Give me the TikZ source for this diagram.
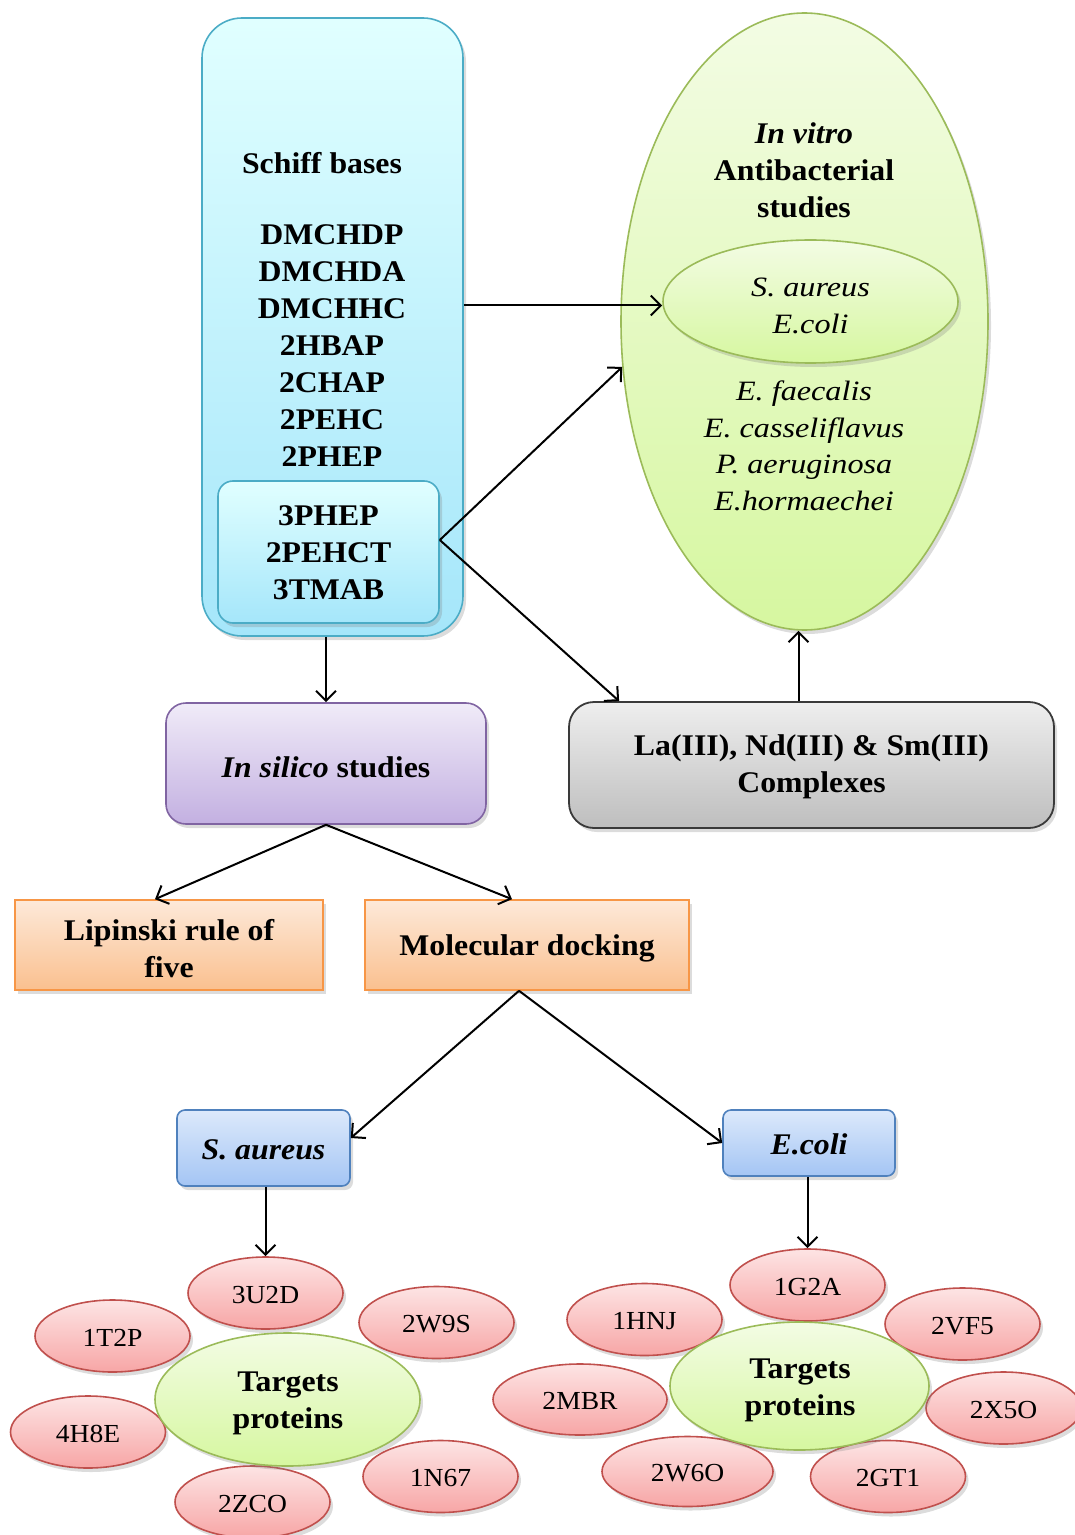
\documentclass[tikz,border=0pt]{standalone}
\usepackage{fontspec}
\setmainfont{Liberation Serif}[FakeStretch=1.06]
\newfontfamily\spfont{Liberation Serif}[FakeStretch=1.15]
\usetikzlibrary{arrows.meta,shapes.geometric,shadings,shadows}
\definecolor{bluebd}{HTML}{4BACC6}
\definecolor{greenbd}{HTML}{9BBB59}
\definecolor{purplebd}{HTML}{8064A2}
\definecolor{orangebd}{HTML}{F79646}
\definecolor{sblbd}{HTML}{4F81BD}
\definecolor{redbd}{HTML}{C0504D}
\definecolor{greybd}{HTML}{3A3A3A}
\newcommand\fbig{\fontsize{15}{18.5}\selectfont}
\newcommand\fsp{\fontsize{14}{18.3}\selectfont}
\newcommand\fred{\fontsize{13}{15}\selectfont}
\tikzset{
  arr/.style={-{Straight Barb[length=5pt,width=10pt]}, line width=1pt},
  sh/.style={drop shadow={opacity=0.28,shadow xshift=1.5pt,shadow yshift=-2pt}},
  cyanbox/.style={draw=bluebd, line width=0.8pt, top color=cyan!12!white, bottom color={rgb,255:red,165;green,230;blue,250}, sh},
  greenell/.style={ellipse, draw=greenbd, line width=0.8pt, inner sep=0pt, top color={rgb,255:red,243;green,252;blue,228}, bottom color={rgb,255:red,214;green,247;blue,160}, sh},
  redell/.style={ellipse, draw=redbd, line width=0.8pt, inner sep=0pt, minimum width=77.5pt, minimum height=36pt, text height=10.2pt, text depth=0pt, top color={rgb,255:red,253;green,228;blue,228}, bottom color={rgb,255:red,247;green,166;blue,166}, sh, font=\fred},
  txt/.style={align=center, inner sep=0pt, font=\fbig\bfseries},
  orangebox/.style={draw=orangebd, line width=0.8pt, minimum height=45pt, top color={rgb,255:red,253;green,233;blue,217}, bottom color={rgb,255:red,250;green,192;blue,143}, sh},
  bluesm/.style={draw=sblbd, line width=0.8pt, rounded corners=4pt, top color={rgb,255:red,220;green,233;blue,251}, bottom color={rgb,255:red,164;green,197;blue,244}, sh},
}
\begin{document}
\begin{tikzpicture}[x=0.5pt,y=-0.5pt]
\useasboundingbox (0,0) rectangle (1075,1535);
% Schiff bases box
\node[cyanbox, rounded corners=20pt, minimum width=130.5pt, minimum height=309pt] (blue) at (332.5,327) {};
\node[txt] (schiff) at (322,163) {Schiff bases};
\node[txt] (list) at (332,346) {DMCHDP\\DMCHDA\\DMCHHC\\2HBAP\\2CHAP\\2PEHC\\2PHEP};
\node[cyanbox, rounded corners=7.5pt, minimum width=110.5pt, minimum height=71pt] (inner) at (328.5,552) {};
\node[txt] (innerT) at (328.5,553) {3PHEP\\2PEHCT\\3TMAB};
% In vitro ellipse
\node[greenell, minimum width=183.5pt, minimum height=308.5pt] (green) at (804.5,321.5) {};
\node[greenell, minimum width=147.5pt, minimum height=61.5pt] (inE) at (810.5,301.5) {};
\node[align=center, inner sep=0pt, font=\fsp\spfont\itshape] (inET) at (810.5,306) {S. aureus\\E.coli};
\node[txt] (vitro) at (804,170) {\textit{In vitro}\\Antibacterial\\studies};
\node[align=center, inner sep=0pt, font=\fsp\spfont\itshape] (species) at (804,446) {E. faecalis\\E. casseliflavus\\P. aeruginosa\\E.hormaechei};
% middle row
\node[draw=purplebd, line width=0.8pt, rounded corners=10pt, minimum width=160pt, minimum height=60.5pt, top color={rgb,255:red,240;green,235;blue,248}, bottom color={rgb,255:red,195;green,176;blue,225}, sh] (silico) at (326,763.5) {};
\node[txt] (silicoT) at (326,767) {\textit{In silico} studies};
\node[draw=greybd, line width=0.9pt, rounded corners=12.5pt, minimum width=242.5pt, minimum height=63pt, top color={rgb,255:red,238;green,238;blue,238}, bottom color={rgb,255:red,190;green,190;blue,190}, sh] (grey) at (811.5,765) {};
\node[txt] (greyT) at (811.5,767) {La(III), Nd(III) \& Sm(III)\\Complexes};
\node[orangebox, minimum width=154pt] (lip) at (169,945) {};
\node[txt] (lipT) at (169,949) {Lipinski rule of\\five};
\node[orangebox, minimum width=162pt] (mol) at (527,945) {};
\node[txt] (molT) at (527,948) {Molecular docking};
% bacteria boxes
\node[bluesm, minimum width=86.5pt, minimum height=38pt] (saur) at (263.5,1148) {};
\node[txt, font=\fbig\bfseries\itshape] (saurT) at (263.5,1150) {S. aureus};
\node[bluesm, minimum width=86pt, minimum height=33pt] (ecoli) at (809,1143) {};
\node[txt, font=\fbig\bfseries\itshape] (ecoliT) at (809,1144) {E.coli};
% red ellipses left
\node[redell] (p3U2D) at (265.5,1293) {3U2D};
\node[redell] (p1T2P) at (112.5,1336) {1T2P};
\node[redell] (p2W9S) at (436.5,1322.5) {2W9S};
\node[redell] (p4H8E) at (88,1432) {4H8E};
\node[redell] (p2ZCO) at (252.5,1502) {2ZCO};
\node[redell] (p1N67) at (440.5,1476.5) {1N67};
% red ellipses right
\node[redell] (p1G2A) at (807.5,1285) {1G2A};
\node[redell] (p1HNJ) at (644.5,1319.5) {1HNJ};
\node[redell] (p2VF5) at (962.5,1324) {2VF5};
\node[redell, minimum width=87pt, minimum height=35.5pt] (p2MBR) at (580,1399.5) {2MBR};
\node[redell, minimum width=85.5pt, minimum height=35pt] (p2W6O) at (687.5,1471.5) {2W6O};
\node[redell] (p2GT1) at (888,1476.5) {2GT1};
\node[redell] (p2X5O) at (1003.5,1408) {2X5O};
% targets
\node[greenell, minimum width=132.5pt, minimum height=66.5pt] (tgL) at (287.5,1399.5) {};
\node[txt] (tgLT) at (288,1403) {Targets\\proteins};
\node[greenell, minimum width=129.5pt, minimum height=64pt] (tgR) at (799.5,1386) {};
\node[txt] (tgRT) at (800,1390.5) {Targets\\proteins};
% connectors
\coordinate (gs) at ([xshift=-3pt]green.south);
\draw[arr] ([yshift=-2pt]blue.east |- inE.west) -- ([yshift=-2pt]inE.west);
\draw[arr] ([yshift=6pt]inner.east) -- (green.194);
\draw[arr] ([yshift=6pt]inner.east) -- ([xshift=25.5pt]grey.north west);
\draw[arr] (grey.north -| gs) -- (gs);
\draw[arr] (blue.south -| silico.north) -- (silico.north);
\draw[arr] (silico.south) -- ([xshift=-7pt]lip.north);
\draw[arr] (silico.south) -- ([xshift=-7.5pt]mol.north);
\draw[arr] ([xshift=-4pt]mol.south) -- ([yshift=5pt]saur.east);
\draw[arr] ([xshift=-4pt]mol.south) -- (ecoli.west);
\draw[arr] (saur.south -| p3U2D.north) -- (p3U2D.north);
\draw[arr] (ecoli.south -| p1G2A.north) -- (p1G2A.north);
\end{tikzpicture}
\end{document}
